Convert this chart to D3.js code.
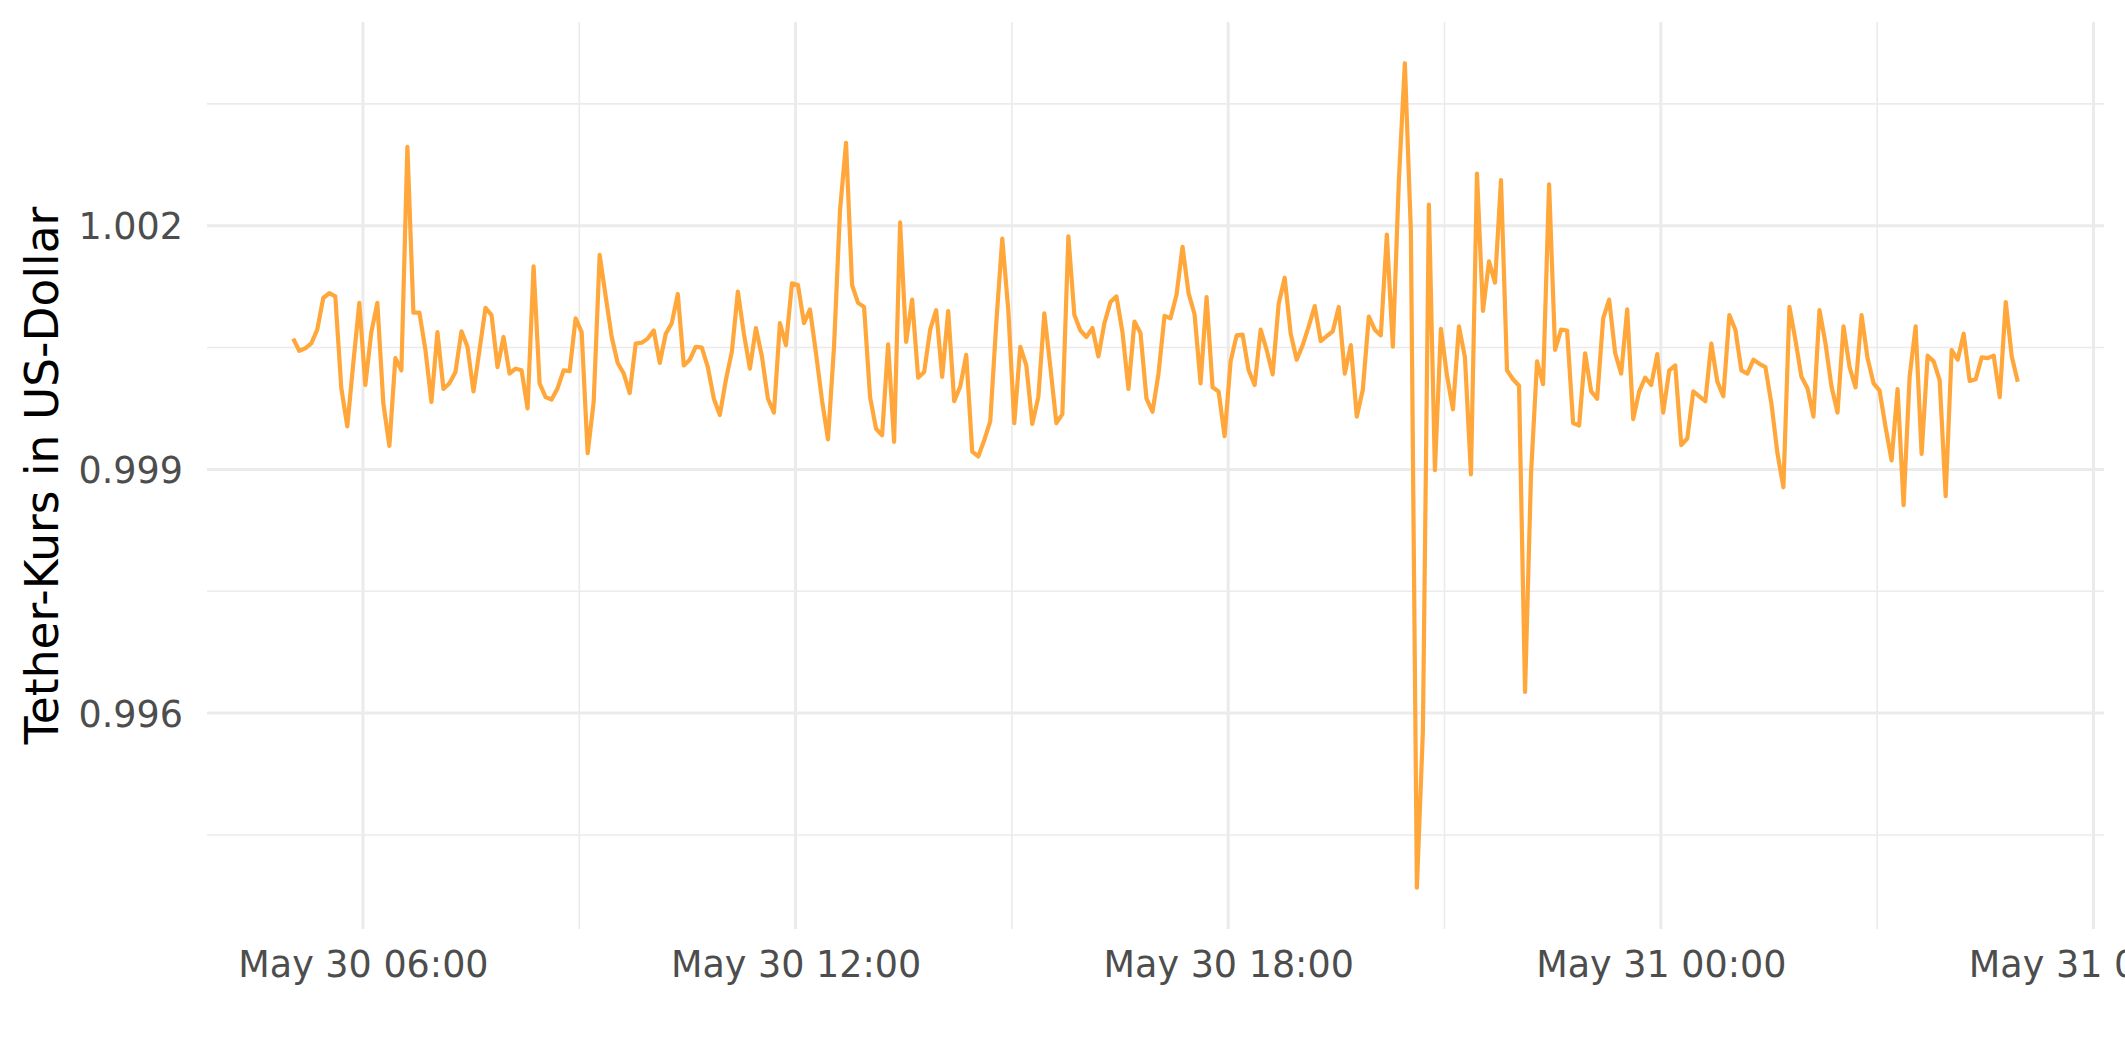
<!DOCTYPE html>
<html>
<head>
<meta charset="utf-8">
<script src="https://cdn.jsdelivr.net/npm/d3@7"></script>
<style>
  html, body { margin: 0; padding: 0; background: #ffffff; }
  svg { display: block; }
  text { font-family: "DejaVu Sans", sans-serif; }
</style>
</head>
<body>
<svg id="chart" width="2125" height="1062"></svg>
<script>
// ---- data ----
const startTime = new Date(2022, 4, 30, 5, 2); // first observation, May 30 05:02
const stepMinutes = 5;
const prices = [
  1.00061, 1.00046, 1.00049, 1.00055, 1.00072, 1.00111, 1.00117, 1.00113, 1.00000, 0.99953,
  1.00031, 1.00105, 1.00004, 1.00069, 1.00105, 0.99981, 0.99929, 1.00037, 1.00022, 1.00297,
  1.00093, 1.00093, 1.00047, 0.99983, 1.00069, 0.99999, 1.00006, 1.00020, 1.00070, 1.00051,
  0.99996, 1.00047, 1.00099, 1.00090, 1.00026, 1.00063, 1.00018, 1.00024, 1.00022, 0.99975,
  1.00150, 1.00006, 0.99989, 0.99986, 1.00000, 1.00022, 1.00021, 1.00086, 1.00069, 0.99920,
  0.99983, 1.00164, 1.00113, 1.00063, 1.00031, 1.00018, 0.99994, 1.00055, 1.00056, 1.00061,
  1.00071, 1.00031, 1.00067, 1.00080, 1.00116, 1.00028, 1.00035, 1.00051, 1.00050, 1.00026,
  0.99987, 0.99967, 1.00010, 1.00045, 1.00119, 1.00067, 1.00024, 1.00074, 1.00039, 0.99987,
  0.99970, 1.00080, 1.00053, 1.00129, 1.00127, 1.00080, 1.00097, 1.00043, 0.99985, 0.99937,
  1.00051, 1.00219, 1.00302, 1.00127, 1.00105, 1.00100, 0.99989, 0.99950, 0.99942, 1.00054,
  0.99934, 1.00204, 1.00057, 1.00109, 1.00013, 1.00020, 1.00072, 1.00096, 1.00014, 1.00095,
  0.99984, 1.00002, 1.00041, 0.99922, 0.99916, 0.99936, 0.99959, 1.00080, 1.00184, 1.00096,
  0.99957, 1.00051, 1.00028, 0.99956, 0.99989, 1.00092, 1.00026, 0.99957, 0.99968, 1.00187,
  1.00090, 1.00071, 1.00063, 1.00074, 1.00039, 1.00080, 1.00106, 1.00113, 1.00069, 0.99999,
  1.00082, 1.00068, 0.99987, 0.99971, 1.00018, 1.00089, 1.00086, 1.00115, 1.00174, 1.00117,
  1.00091, 1.00006, 1.00112, 1.00001, 0.99996, 0.99941, 1.00033, 1.00065, 1.00066, 1.00022,
  1.00004, 1.00072, 1.00047, 1.00017, 1.00104, 1.00136, 1.00067, 1.00035, 1.00053, 1.00076,
  1.00101, 1.00058, 1.00064, 1.00070, 1.00100, 1.00018, 1.00053, 0.99965, 0.99998, 1.00088,
  1.00072, 1.00065, 1.00189, 1.00051, 1.00256, 1.00400, 1.00193, 0.99385, 0.99578, 1.00226,
  0.99899, 1.00073, 1.00016, 0.99974, 1.00076, 1.00038, 0.99894, 1.00264, 1.00095, 1.00156,
  1.00130, 1.00256, 1.00022, 1.00011, 1.00003, 0.99626, 0.99895, 1.00033, 1.00005, 1.00251,
  1.00047, 1.00072, 1.00071, 0.99957, 0.99954, 1.00043, 0.99996, 0.99987, 1.00086, 1.00109,
  1.00043, 1.00018, 1.00097, 0.99962, 0.99996, 1.00013, 1.00004, 1.00042, 0.99970, 1.00022,
  1.00028, 0.99930, 0.99938, 0.99996, 0.99990, 0.99984, 1.00055, 1.00008, 0.99990, 1.00090,
  1.00072, 1.00022, 1.00018, 1.00035, 1.00030, 1.00026, 0.99981, 0.99920, 0.99878, 1.00100,
  1.00059, 1.00014, 1.00000, 0.99965, 1.00096, 1.00055, 1.00002, 0.99970, 1.00076, 1.00026,
  1.00001, 1.00090, 1.00037, 1.00006, 0.99997, 0.99952, 0.99911, 0.99999, 0.99856, 1.00014,
  1.00076, 0.99919, 1.00040, 1.00033, 1.00010, 0.99867, 1.00047, 1.00035, 1.00067, 1.00009,
  1.00011, 1.00038, 1.00037, 1.00040, 0.99989, 1.00106, 1.00039, 1.00008
];
const yTicks = [0.996, 0.999, 1.002];
const yMinorTicks = [0.9945, 0.9975, 1.0005, 1.0035];
const xTickTimes = [
  new Date(2022, 4, 30, 6, 0), new Date(2022, 4, 30, 12, 0), new Date(2022, 4, 30, 18, 0),
  new Date(2022, 4, 31, 0, 0), new Date(2022, 4, 31, 6, 0)
];
const xTickLabels = ["May 30 06:00", "May 30 12:00", "May 30 18:00", "May 31 00:00", "May 31 06:00"];
const xMinorTimes = [
  new Date(2022, 4, 30, 9, 0), new Date(2022, 4, 30, 15, 0),
  new Date(2022, 4, 30, 21, 0), new Date(2022, 4, 31, 3, 0)
];
const yTitle = "Tether-Kurs in US-Dollar";

// ---- build ----
const data = prices.map((v, i) => ({ t: d3.timeMinute.offset(startTime, i * stepMinutes), v }));

const W = 2125, H = 1062;
const margin = { top: 22, right: 21, bottom: 133, left: 207 };
const svg = d3.select("#chart");

const tExt = d3.extent(data, d => d.t);
const tPad = (tExt[1] - tExt[0]) * 0.05;
const x = d3.scaleTime()
  .domain([new Date(+tExt[0] - tPad), new Date(+tExt[1] + tPad)])
  .range([margin.left, W - margin.right]);

const vExt = d3.extent(data, d => d.v);
const vPad = (vExt[1] - vExt[0]) * 0.05;
const y = d3.scaleLinear()
  .domain([vExt[0] - vPad, vExt[1] + vPad])
  .range([H - margin.bottom, margin.top]);

const grid = svg.append("g");
const gridColor = "#EBEBEB";
// minor grid
grid.selectAll("line.ymin").data(yMinorTicks).join("line")
  .attr("x1", margin.left).attr("x2", W - margin.right)
  .attr("y1", d => y(d)).attr("y2", d => y(d))
  .attr("stroke", gridColor).attr("stroke-width", 1.6);
grid.selectAll("line.xmin").data(xMinorTimes).join("line")
  .attr("y1", margin.top).attr("y2", H - margin.bottom)
  .attr("x1", d => x(d)).attr("x2", d => x(d))
  .attr("stroke", gridColor).attr("stroke-width", 1.6);
// major grid
grid.selectAll("line.ymaj").data(yTicks).join("line")
  .attr("x1", margin.left).attr("x2", W - margin.right)
  .attr("y1", d => y(d)).attr("y2", d => y(d))
  .attr("stroke", gridColor).attr("stroke-width", 3);
grid.selectAll("line.xmaj").data(xTickTimes).join("line")
  .attr("y1", margin.top).attr("y2", H - margin.bottom)
  .attr("x1", d => x(d)).attr("x2", d => x(d))
  .attr("stroke", gridColor).attr("stroke-width", 3);

// axes
const xAxis = d3.axisBottom(x)
  .tickValues(xTickTimes)
  .tickFormat((d, i) => xTickLabels[i])
  .tickSize(0);
const gx = svg.append("g")
  .attr("transform", `translate(0,${H - margin.bottom})`)
  .call(xAxis);
gx.select(".domain").remove();
gx.selectAll("text")
  .attr("y", 48).attr("dy", null)
  .attr("fill", "#4D4D4D")
  .style("font-size", "36.5px")
  .style("font-family", '"DejaVu Sans", sans-serif');

const yAxis = d3.axisLeft(y)
  .tickValues(yTicks)
  .tickFormat(d3.format(".3f"))
  .tickSize(0);
const gy = svg.append("g")
  .attr("transform", `translate(${margin.left},0)`)
  .call(yAxis);
gy.select(".domain").remove();
gy.selectAll("text")
  .attr("x", -24).attr("dy", "0.36em")
  .attr("fill", "#4D4D4D")
  .style("font-size", "36.5px")
  .style("font-family", '"DejaVu Sans", sans-serif');

svg.append("text")
  .attr("transform", `translate(58,${(margin.top + H - margin.bottom) / 2}) rotate(-90)`)
  .attr("text-anchor", "middle")
  .attr("fill", "#000000")
  .style("font-size", "45.5px")
  .text(yTitle);

// line
const line = d3.line().x(d => x(d.t)).y(d => y(d.v));
svg.append("path")
  .datum(data)
  .attr("d", line)
  .attr("fill", "none")
  .attr("stroke", "#FFA73A")
  .attr("stroke-width", 4.2)
  .attr("stroke-linejoin", "round")
  .attr("stroke-linecap", "butt");
</script>
</body>
</html>
